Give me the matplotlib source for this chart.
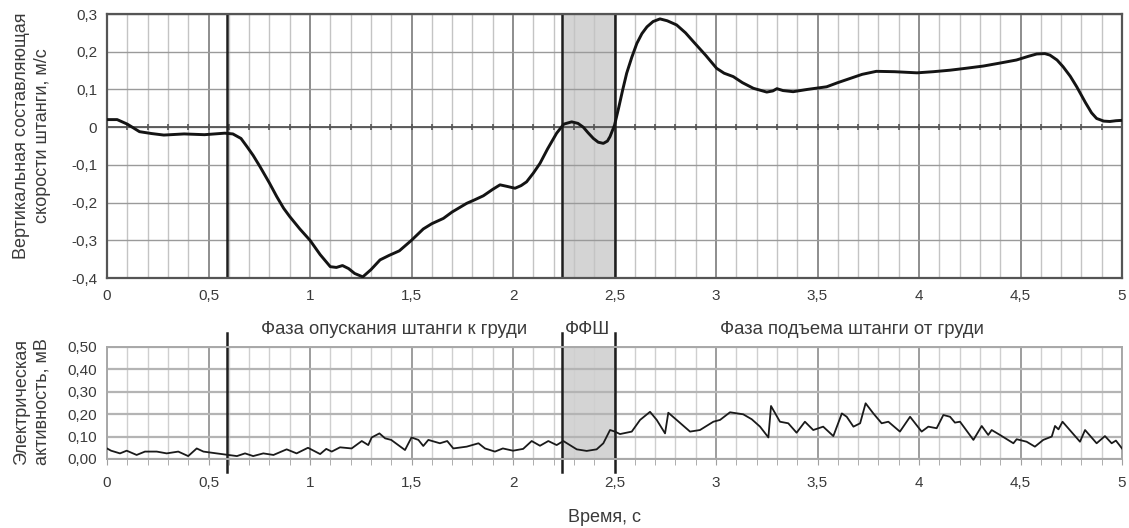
import numpy as np
import matplotlib
matplotlib.use("Agg")
from matplotlib import pyplot as plt
from matplotlib.ticker import FuncFormatter, MultipleLocator

plt.rcParams["font.family"] = ["Liberation Sans", "DejaVu Sans"]
plt.rcParams["font.size"] = 11

## Данные
# скорость штанги, м/с
t_vel = [0.00, 0.05, 0.10, 0.13, 0.16, 0.22, 0.28, 0.38, 0.48, 0.58, 0.62, 0.66, 0.69, 0.72,
         0.754, 0.80, 0.836, 0.87, 0.90, 0.95, 1.00, 1.05, 1.10, 1.13, 1.16, 1.19, 1.22, 1.26,
         1.30, 1.345, 1.39, 1.44, 1.50, 1.558, 1.60, 1.657, 1.70, 1.772, 1.81, 1.854, 1.90,
         1.936, 1.97, 2.01, 2.04, 2.067, 2.10, 2.133, 2.17, 2.215, 2.25, 2.289, 2.32, 2.346,
         2.37, 2.396, 2.42, 2.445, 2.465, 2.478, 2.50, 2.52, 2.54, 2.56, 2.585, 2.61, 2.635,
         2.66, 2.69, 2.724, 2.76, 2.806, 2.85, 2.888, 2.95, 3.003, 3.04, 3.085, 3.13, 3.184,
         3.25, 3.28, 3.30, 3.33, 3.38, 3.45, 3.545, 3.60, 3.66, 3.72, 3.79, 3.88, 3.99, 4.07,
         4.153, 4.23, 4.317, 4.40, 4.48, 4.54, 4.58, 4.62, 4.645, 4.68, 4.71, 4.745, 4.777,
         4.82, 4.85, 4.875, 4.91, 4.94, 4.97, 5.00]
v_vel = [0.020, 0.020, 0.008, -0.002, -0.012, -0.017, -0.021, -0.018, -0.020, -0.016, -0.018,
         -0.030, -0.052, -0.075, -0.105, -0.148, -0.184, -0.215, -0.237, -0.270, -0.300, -0.338,
         -0.370, -0.372, -0.367, -0.375, -0.388, -0.397, -0.378, -0.352, -0.340, -0.328, -0.300,
         -0.270, -0.256, -0.242, -0.225, -0.202, -0.193, -0.182, -0.165, -0.153, -0.157, -0.162,
         -0.155, -0.145, -0.122, -0.096, -0.058, -0.016, 0.008, 0.014, 0.010, 0.000, -0.015,
         -0.030, -0.040, -0.043, -0.037, -0.025, 0.005, 0.050, 0.098, 0.143, 0.185, 0.222,
         0.248, 0.266, 0.280, 0.287, 0.282, 0.271, 0.250, 0.227, 0.190, 0.156, 0.143, 0.134,
         0.118, 0.103, 0.093, 0.096, 0.102, 0.097, 0.094, 0.100, 0.107, 0.118, 0.129, 0.140,
         0.148, 0.147, 0.144, 0.147, 0.151, 0.156, 0.162, 0.170, 0.178, 0.188, 0.194, 0.195,
         0.191, 0.178, 0.160, 0.135, 0.107, 0.065, 0.038, 0.023, 0.016, 0.015, 0.017, 0.018]

# электрическая активность, мВ
t_emg = [0.00, 0.02, 0.064, 0.097, 0.146, 0.187, 0.245, 0.294, 0.351, 0.40, 0.442, 0.475,
         0.54, 0.598, 0.64, 0.68, 0.72, 0.77, 0.82, 0.885, 0.934, 0.99, 1.05, 1.08, 1.107,
         1.148, 1.205, 1.255, 1.287, 1.304, 1.342, 1.37, 1.40, 1.468, 1.50, 1.534, 1.558,
         1.583, 1.64, 1.676, 1.706, 1.772, 1.83, 1.862, 1.911, 1.95, 2.0, 2.05, 2.092, 2.133,
         2.174, 2.215, 2.248, 2.314, 2.363, 2.412, 2.445, 2.478, 2.502, 2.527, 2.585, 2.626,
         2.675, 2.708, 2.749, 2.765, 2.806, 2.872, 2.921, 2.987, 3.02, 3.069, 3.134, 3.176,
         3.217, 3.258, 3.271, 3.315, 3.356, 3.397, 3.438, 3.479, 3.528, 3.578, 3.62, 3.644,
         3.677, 3.71, 3.737, 3.775, 3.816, 3.849, 3.906, 3.956, 4.013, 4.046, 4.087, 4.12,
         4.153, 4.177, 4.202, 4.268, 4.309, 4.341, 4.358, 4.399, 4.465, 4.481, 4.53, 4.571,
         4.612, 4.654, 4.67, 4.687, 4.707, 4.793, 4.818, 4.875, 4.916, 4.949, 4.97, 5.0]
v_emg = [0.047, 0.037, 0.025, 0.037, 0.018, 0.033, 0.033, 0.025, 0.033, 0.013, 0.047, 0.033,
         0.025, 0.018, 0.013, 0.025, 0.013, 0.025, 0.018, 0.043, 0.025, 0.050, 0.022, 0.045,
         0.033, 0.052, 0.047, 0.080, 0.062, 0.096, 0.114, 0.092, 0.085, 0.040, 0.096, 0.085,
         0.058, 0.085, 0.070, 0.080, 0.047, 0.055, 0.070, 0.047, 0.033, 0.047, 0.037, 0.045,
         0.080, 0.059, 0.080, 0.062, 0.080, 0.043, 0.036, 0.043, 0.070, 0.129, 0.122, 0.111,
         0.122, 0.174, 0.210, 0.174, 0.114, 0.206, 0.174, 0.122, 0.129, 0.166, 0.174, 0.208,
         0.199, 0.177, 0.144, 0.096, 0.236, 0.166, 0.159, 0.117, 0.166, 0.129, 0.144, 0.102,
         0.203, 0.188, 0.144, 0.159, 0.248, 0.203, 0.159, 0.166, 0.122, 0.188, 0.122, 0.144,
         0.137, 0.196, 0.188, 0.162, 0.166, 0.085, 0.147, 0.107, 0.129, 0.107, 0.070, 0.088,
         0.077, 0.055, 0.085, 0.100, 0.147, 0.132, 0.166, 0.077, 0.129, 0.070, 0.102, 0.070,
         0.082, 0.047]

# границы фаз движения, с
t_start = 0.59
ffsh = (2.24, 2.50)

phase_labels = ["Фаза опускания штанги к груди", "ФФШ", "Фаза подъема штанги от груди"]
phase_x = [394, 588, 852]


def comma(fmt):
    return FuncFormatter(lambda v, pos: (fmt % v).replace(".", ",").replace("-0,0", "0,0"))


def grid_style(ax, major_c, minor_c, h_c, h_lw):
    ax.set_xlim(0, 5)
    ax.xaxis.set_major_locator(MultipleLocator(0.5))
    ax.xaxis.set_minor_locator(MultipleLocator(0.1))
    ax.xaxis.set_major_formatter(comma("%g"))
    ax.set_axisbelow(True)
    ax.grid(True, which="major", axis="x", color=major_c, lw=1.2)
    ax.grid(True, which="minor", axis="x", color=minor_c, lw=1.0)
    ax.grid(True, which="major", axis="y", color=h_c, lw=h_lw)
    ax.tick_params(which="both", length=0, colors="#3a3a3a", labelsize=11)
    ax.tick_params(axis="x", pad=8)
    ax.tick_params(axis="y", pad=7)


fig = plt.figure(figsize=(11.29, 5.28), dpi=100)
W, H = 1129.0, 528.0

## Скорость
ax1 = fig.add_axes([107 / W, 1 - 278 / H, 1015 / W, 264 / H])
grid_style(ax1, "#7a7a7a", "#c4c4c4", "#9a9a9a", 1.0)
ax1.set_ylim(-0.4, 0.3)
ax1.yaxis.set_major_locator(MultipleLocator(0.1))
ax1.yaxis.set_major_formatter(FuncFormatter(
    lambda v, pos: "0" if abs(v) < 1e-9 else ("%.1f" % v).replace(".", ",")))
for s in ax1.spines.values():
    s.set_color("#555555")
    s.set_linewidth(1.6)
ax1.axvspan(*ffsh, color="#d4d4d4", zorder=0.2, lw=0)
# ось абсцисс по нулю с засечками
ax1.axhline(0, color="#555555", lw=1.3, zorder=1)
ticks = np.arange(0, 5.01, 0.1)
ax1.plot(ticks, np.zeros_like(ticks), ls="none", marker="|", ms=5, mew=1.2,
         color="#555555", zorder=1)
for xv in (t_start,) + ffsh:
    ax1.axvline(xv, color="#1e1e1e", lw=1.8, zorder=2)
ax1.plot(t_vel, v_vel, color="#141414", lw=2.1, zorder=3, solid_joinstyle="round")

## ЭМГ
ax2 = fig.add_axes([107 / W, 1 - 459 / H, 1015 / W, 112.3 / H])
grid_style(ax2, "#8c8c8c", "#cfcfcf", "#b4b4b4", 1.6)
ax2.set_ylim(0, 0.5)
ax2.yaxis.set_major_locator(MultipleLocator(0.1))
ax2.yaxis.set_major_formatter(comma("%.2f"))
for s in ax2.spines.values():
    s.set_color("#a8a8a8")
    s.set_linewidth(1.4)
ax2.tick_params(axis="x", which="both", length=4, direction="out", color="#a0a0a0")
ax2.axvspan(*ffsh, color="#d4d4d4", zorder=0.2, lw=0)
for xv in (t_start,) + ffsh:
    ax2.axvline(xv, ymin=-0.116, ymax=1.122, color="#1e1e1e", lw=1.8, zorder=2,
                clip_on=False)
ax2.plot(t_emg, v_emg, color="#1a1a1a", lw=1.3, zorder=3)

## Подписи
fig.text(32 / W, 1 - 136 / H, "Вертикальная составляющая\nскорости штанги, м/с",
         rotation=90, ha="center", va="center", multialignment="center",
         fontsize=13, color="#3a3a3a", linespacing=1.25)
fig.text(32 / W, 1 - 402 / H, "Электрическая\nактивность, мВ",
         rotation=90, ha="center", va="center", multialignment="center",
         fontsize=13, color="#3a3a3a", linespacing=1.25)
for lbl, xp in zip(phase_labels, phase_x):
    fig.text(xp / W, 1 - 329 / H, lbl, ha="center", va="center", fontsize=13.3,
             color="#3a3a3a")
fig.text(605 / W, 1 - 518 / H, "Время, с", ha="center", va="center", fontsize=13,
         color="#3a3a3a")

fig.savefig("out.png", dpi=100)
